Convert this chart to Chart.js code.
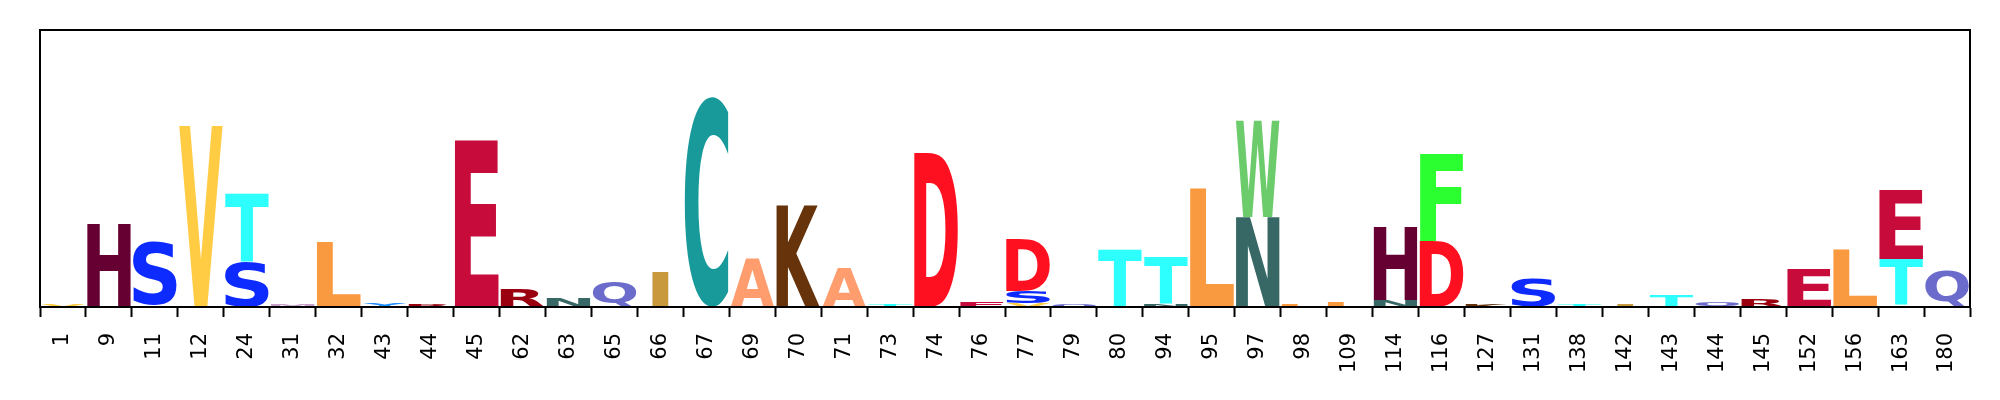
<!DOCTYPE html>
<html>
<head>
<meta charset="utf-8">
<script src="https://cdn.jsdelivr.net/npm/chart.js@4.4.1/dist/chart.umd.min.js"></script>
<style>
  html, body { margin: 0; padding: 0; background: #ffffff; }
  #wrap { width: 2000px; height: 400px; }
</style>
</head>
<body>
<div id="wrap"><canvas id="c" width="2000" height="400"></canvas></div>
<script>
// ---------- DATA (letter heights per position) ----------
const positions = ['1','9','11','12','24','31','32','43','44','45',
                   '62','63','65','66','67','69','70','71','73','74',
                   '76','77','79','80','94','95','97','98','109','114',
                   '116','127','131','138','142','143','144','145','152','156',
                   '163','180'];

const A = [0,0,0,0,0,0,0,0,0,0,  0,0,0,0,0,0.48,0,0.386,0,0,  0,0,0,0,0,0,0,0,0,0,  0,0,0,0,0,0,0,0,0,0,  0,0];
const C = [0,0,0,0,0,0,0,0,0,0,  0,0,0,0,2.105,0,0,0,0,0,  0,0,0,0,0,0,0,0,0,0,  0,0,0,0,0,0,0,0,0,0,  0,0];
const D = [0,0,0,0,0,0,0,0,0,0,  0,0,0,0,0,0,0,0,0,1.54,  0,0.523,0,0,0,0,0,0,0,0,  0.66,0,0,0,0,0,0,0,0,0,  0,0];
const E = [0,0,0,0,0,0,0,0,0,1.67,  0,0,0,0,0,0,0,0,0,0,  0.05,0,0,0,0,0,0,0,0,0,  0,0,0,0,0,0,0,0,0.375,0,  0.687,0];
const F = [0,0,0.015,0,0,0,0,0,0,0,  0,0,0,0,0,0,0,0,0,0,  0,0,0,0,0,0,0,0,0,0,  0.867,0,0,0,0,0,0,0,0,0,  0,0];
const H = [0,0.82,0,0,0,0,0,0,0,0,  0,0,0,0,0,0,0,0,0,0,  0,0,0,0,0,0,0,0,0,0.73,  0,0,0,0,0,0,0,0,0,0,  0,0];
const I = [0,0,0,0,0,0,0,0,0,0,  0,0,0,0.346,0,0,0,0,0,0,  0,0,0,0,0,0,0,0,0,0,  0,0,0,0,0.03,0,0,0,0,0,  0,0];
const K = [0,0,0,0,0,0,0,0,0,0,  0,0,0,0,0,0,1.01,0,0,0,  0,0,0,0,0,0,0,0,0,0,  0,0.02,0,0,0,0,0,0,0,0,  0,0];
const L = [0,0,0,0,0,0,0.65,0,0,0,  0,0,0,0,0,0,0,0,0,0,  0,0,0,0,0,1.19,0,0.03,0.05,0,  0,0,0,0,0,0,0,0,0,0.57,  0.014,0];
const M = [0,0,0,0,0,0.025,0,0,0,0,  0,0,0,0,0,0,0,0,0,0,  0,0,0,0,0,0,0,0,0,0,  0,0,0,0,0,0,0,0,0,0,  0,0];
const N = [0,0.01,0,0,0,0,0,0,0,0,  0,0.096,0,0,0,0,0,0,0,0,  0,0,0,0,0.025,0,0.90,0,0,0.07,  0,0,0,0,0,0,0,0,0,0,  0,0];
const Q = [0,0,0,0,0,0,0,0,0,0,  0,0,0.256,0,0,0,0,0,0,0,  0,0,0.025,0,0,0,0,0,0,0,  0,0,0,0,0,0,0.04,0,0,0,  0,0.36];
const R = [0,0,0,0,0,0,0,0,0.03,0,  0.186,0,0,0,0,0,0,0,0,0,  0,0,0,0,0,0,0,0,0,0,  0,0,0,0,0,0,0,0.075,0,0,  0,0];
const S = [0,0,0.635,0,0.45,0,0,0,0,0,  0,0,0,0,0,0,0,0,0,0,  0,0.123,0,0,0,0,0,0,0,0,  0,0,0.285,0,0,0,0,0,0,0,  0,0];
const T = [0,0,0,0,0.677,0,0,0,0,0,  0,0,0,0,0,0,0,0,0.02,0,  0,0,0,0.58,0.477,0,0,0,0,0,  0,0,0,0.03,0,0.11,0,0,0,0,  0.466,0];
const V = [0.02,0,0,1.81,0,0,0,0,0,0,  0,0,0,0,0,0,0,0,0,0,  0,0.034,0,0,0,0,0,0,0,0,  0,0,0,0,0,0,0,0,0,0,  0,0];
const W = [0,0,0,0,0,0,0,0,0,0,  0,0,0,0,0,0,0,0,0,0,  0,0,0,0,0,0,0.957,0,0,0,  0,0,0,0,0,0,0,0,0,0,  0,0];
const Y = [0,0,0,0,0,0,0,0.04,0,0,  0,0,0,0,0,0,0,0,0,0,  0,0,0,0,0,0,0,0,0,0,  0,0,0,0,0,0,0,0,0,0,  0,0];

const yMax = 2.77;

// ---------- STYLE ----------
const letterColors = {
  A: '#ff9d6f', C: '#18999a', D: '#ff1020', E: '#c70b3a', F: '#2bff2f',
  H: '#660033', I: '#c99a3d', K: '#66330a', L: '#f99a40', M: '#c8a0c8',
  N: '#376865', Q: '#6b6bcc', R: '#9a0010', S: '#0d2aff', T: '#2dffff',
  V: '#ffcc44', W: '#6ccb6a', Y: '#2090ff'
};
const letterSeries = { A, C, D, E, F, H, I, K, L, M, N, Q, R, S, T, V, W, Y };

// Build stacked floating bars (big on top) from the letter arrays
const stacks = positions.map((p, i) => {
  const items = Object.keys(letterSeries)
    .map(k => ({ letter: k, h: letterSeries[k][i] }))
    .filter(o => o.h > 0)
    .sort((a, b) => a.h - b.h);
  let base = 0;
  return items.map(o => { const r = { letter: o.letter, lo: base, hi: base + o.h }; base += o.h; return r; });
});
const maxRank = Math.max(...stacks.map(s => s.length));
const datasets = [];
for (let r = 0; r < maxRank; r++) {
  datasets.push({
    label: 'rank' + r,
    data: stacks.map(s => s[r] ? [s[r].lo, s[r].hi] : null),
    letters: stacks.map(s => s[r] ? s[r].letter : null),
    backgroundColor: 'rgba(0,0,0,0)',
    borderWidth: 0,
    categoryPercentage: 1.0,
    barPercentage: 0.95,
    grouped: false
  });
}

const GLYPH_FONT = 'bold 200px "DejaVu Sans"';
const glyphPlugin = {
  id: 'glyphs',
  afterDatasetsDraw(chart) {
    const ctx = chart.ctx;
    ctx.save();
    ctx.font = GLYPH_FONT;
    const me = ctx.measureText('E');
    const eWidth = me.actualBoundingBoxLeft + me.actualBoundingBoxRight;
    ctx.restore();
    chart.data.datasets.forEach((ds, di) => {
      const meta = chart.getDatasetMeta(di);
      meta.data.forEach((el, i) => {
        const letter = ds.letters[i];
        if (!letter) return;
        const p = el.getProps(['x', 'y', 'base', 'width'], true);
        const top = Math.min(p.y, p.base);
        const h = Math.abs(p.base - p.y);
        if (h <= 0.05) return;
        const w = p.width;
        ctx.save();
        ctx.font = GLYPH_FONT;
        ctx.textAlign = 'left';
        ctx.textBaseline = 'alphabetic';
        const m = ctx.measureText(letter);
        const gw = m.actualBoundingBoxLeft + m.actualBoundingBoxRight;
        const gh = m.actualBoundingBoxAscent + m.actualBoundingBoxDescent;
        const hs = Math.min(w / eWidth, w / gw);
        const drawnW = gw * hs;
        ctx.translate(p.x - drawnW / 2, top);
        ctx.scale(hs, h / gh);
        ctx.fillStyle = letterColors[letter];
        ctx.fillText(letter, m.actualBoundingBoxLeft, m.actualBoundingBoxAscent);
        ctx.restore();
      });
    });
  },
  afterDraw(chart) {
    const { ctx, chartArea: a } = chart;
    ctx.save();
    ctx.strokeStyle = '#000';
    ctx.lineWidth = 2;
    ctx.strokeRect(a.left, a.top, a.right - a.left, a.bottom - a.top);
    ctx.restore();
  }
};

new Chart(document.getElementById('c'), {
  type: 'bar',
  data: { labels: positions, datasets },
  options: {
    responsive: false,
    animation: false,
    events: [],
    layout: { padding: { left: 40, right: 30, top: 30, bottom: 0 } },
    plugins: { legend: { display: false }, tooltip: { enabled: false } },
    scales: {
      x: {
        type: 'category',
        offset: true,
        afterFit(scale) { scale.height = 93; },
        grid: { display: true, drawOnChartArea: false, drawTicks: true, tickLength: 10, tickWidth: 2, tickColor: '#000' },
        border: { display: true, color: '#000', width: 2 },
        ticks: {
          autoSkip: false, maxRotation: 90, minRotation: 90, padding: 16,
          color: '#000', font: { family: '"DejaVu Sans"', size: 21 }
        }
      },
      y: {
        display: false,
        min: 0,
        max: yMax,
        stacked: false
      }
    }
  },
  plugins: [glyphPlugin]
});
</script>
</body>
</html>
